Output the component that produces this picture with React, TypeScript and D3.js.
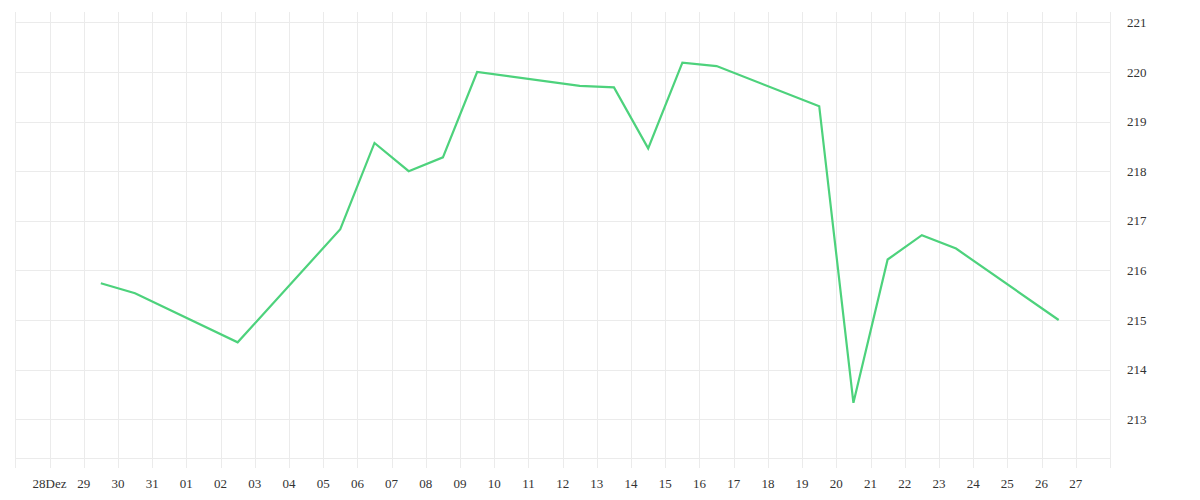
import React from "react";
import * as d3 from "d3";

const dates: string[] = [
  "2014-12-29", "2014-12-30", "2015-01-02", "2015-01-05", "2015-01-06",
  "2015-01-07", "2015-01-08", "2015-01-09", "2015-01-12", "2015-01-13",
  "2015-01-14", "2015-01-15", "2015-01-16", "2015-01-19", "2015-01-20",
  "2015-01-21", "2015-01-22", "2015-01-23", "2015-01-26",
];
const values: number[] = [
  215.74, 215.54, 214.55, 216.83, 218.57,
  218.0, 218.28, 220.0, 219.72, 219.69,
  218.46, 220.19, 220.12, 219.31, 213.33,
  216.22, 216.71, 216.44, 215.0,
];
const yTicks: number[] = [213, 214, 215, 216, 217, 218, 219, 220, 221];
const xTickLabels: string[] = [
  "28Dez", "29", "30", "31", "01", "02", "03", "04", "05", "06", "07", "08",
  "09", "10", "11", "12", "13", "14", "15", "16", "17", "18", "19", "20",
  "21", "22", "23", "24", "25", "26", "27",
];

const W = 1200;
const H = 500;
const left = 15.3;
const right = 1110;
const top = 12;
const bottom = 458.4;

function parseDay(s: string, hour = 0): Date {
  const [y, m, d] = s.split("-").map(Number);
  return new Date(y, m - 1, d, hour);
}

export default function App() {
  const x = d3
    .scaleTime()
    .domain([parseDay("2014-12-27"), parseDay("2015-01-28")])
    .range([left, right]);
  const y = d3.scaleLinear().domain([212.21, 221.21]).range([bottom, top]);

  const gridDays = d3.timeDay.range(parseDay("2014-12-27"), d3.timeDay.offset(parseDay("2015-01-28"), 1));
  const labelDays = d3.timeDay.range(parseDay("2014-12-28"), parseDay("2015-01-28"));

  const pts = dates.map((d, i) => ({ t: parseDay(d, 12), v: values[i] }));
  const line = d3
    .line<{ t: Date; v: number }>()
    .x((p) => x(p.t))
    .y((p) => y(p.v));

  const grid = "#ebebeb";
  const textColor = "#333";

  return (
    <svg
      width={W}
      height={H}
      style={{ position: "absolute", left: 0, top: 0, background: "#fff" }}
    >
      <g>
        {gridDays.map((d, i) => (
          <line
            key={"v" + i}
            x1={Math.round(x(d)) + 0.5}
            x2={Math.round(x(d)) + 0.5}
            y1={top}
            y2={468}
            stroke={grid}
            strokeWidth={1}
          />
        ))}
        {yTicks.map((t) => (
          <line
            key={"h" + t}
            x1={left}
            x2={right}
            y1={Math.round(y(t)) + 0.5}
            y2={Math.round(y(t)) + 0.5}
            stroke={grid}
            strokeWidth={1}
          />
        ))}
        <line
          x1={left}
          x2={right}
          y1={Math.round(bottom) + 0.5}
          y2={Math.round(bottom) + 0.5}
          stroke={grid}
          strokeWidth={1}
        />
      </g>
      <path
        d={line(pts) || ""}
        fill="none"
        stroke="#4dd27c"
        strokeWidth={2.2}
        strokeLinejoin="miter"
      />
      <g fontSize={13} fill={textColor}>
        {labelDays.map((d, i) => (
          <text key={"xl" + i} x={x(d)} y={488} textAnchor="middle">
            {xTickLabels[i]}
          </text>
        ))}
        {yTicks.map((t) => (
          <text key={"yl" + t} x={1127} y={y(t)} dy="0.35em" textAnchor="start">
            {t}
          </text>
        ))}
      </g>
    </svg>
  );
}
